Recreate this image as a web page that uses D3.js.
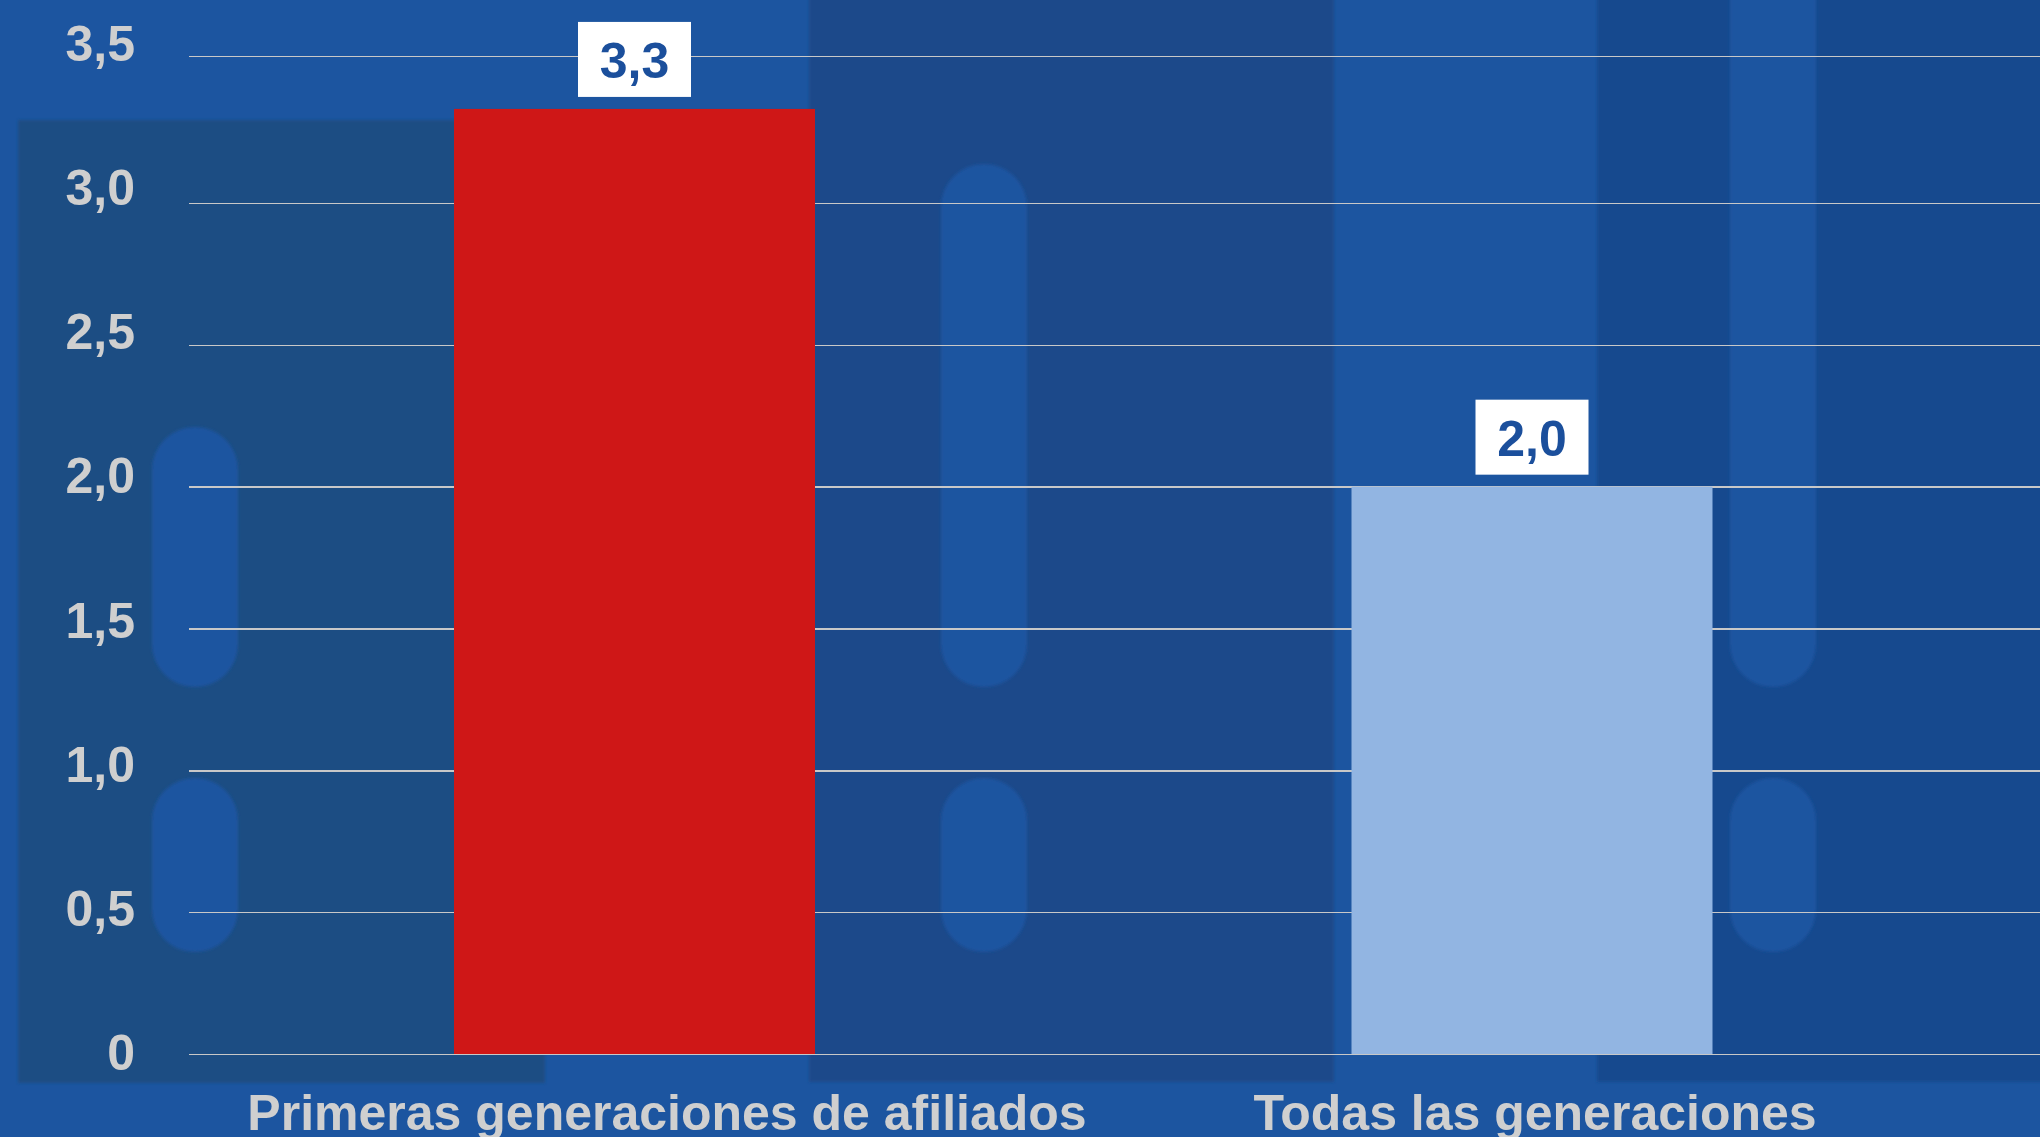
<!DOCTYPE html>
<html>
<head>
<meta charset="utf-8">
<script src="https://cdn.jsdelivr.net/npm/d3@7"></script>
<style>
  html, body { margin: 0; padding: 0; overflow: hidden; background: #1c55a0; }
  svg { display: block; }
</style>
</head>
<body>
<div id="chart"></div>
<script>
// data
var categories = ["Primeras generaciones de afiliados", "Todas las generaciones"];
var values = [3.32, 2.0];
var yTicks = [0, 0.5, 1, 1.5, 2, 2.5, 3, 3.5];
var tickLabels = ["0", "0,5", "1,0", "1,5", "2,0", "2,5", "3,0", "3,5"];

var barColors = ["#cf1717", "#92b5e2"];

var width = 2040,
    height = 1137,
    font = "'Liberation Sans', Arial, sans-serif";

// background panels and pills (decoration only)
var panels = [
  { x: 18, y: 120, w: 527, h: 963, fill: "#1b4e83" },
  { x: 809, y: -30, w: 525, h: 1112, fill: "#1b498a" },
  { x: 1597, y: -30, w: 480, h: 1112, fill: "#16498e" }
];
var pills = [
  { x: 152, y: 427, w: 86, h: 260 },
  { x: 152, y: 778, w: 86, h: 174 },
  { x: 941, y: 164, w: 86, h: 523 },
  { x: 941, y: 778, w: 86, h: 174 },
  { x: 1730, y: -80, w: 86, h: 767 },
  { x: 1730, y: 778, w: 86, h: 174 }
];

var comma = d3.formatLocale({ decimal: ",", thousands: ".", grouping: [3], currency: ["", ""] }).format(".1f");

var svg = d3.select("#chart").append("svg")
  .attr("width", width)
  .attr("height", height);

var defs = svg.append("defs");
defs.append("filter").attr("id", "soft")
  .attr("x", "-10%").attr("y", "-10%").attr("width", "120%").attr("height", "120%")
  .append("feGaussianBlur").attr("stdDeviation", 1.6);

svg.append("rect")
  .attr("width", width).attr("height", height)
  .attr("fill", "#1c55a0");

svg.append("g").selectAll("rect").data(panels).enter().append("rect")
  .attr("x", function(d){ return d.x; })
  .attr("y", function(d){ return d.y; })
  .attr("width", function(d){ return d.w; })
  .attr("height", function(d){ return d.h; })
  .attr("fill", function(d){ return d.fill; })
  .attr("filter", "url(#soft)");

svg.append("g").selectAll("rect").data(pills).enter().append("rect")
  .attr("x", function(d){ return d.x; })
  .attr("y", function(d){ return d.y; })
  .attr("width", function(d){ return d.w; })
  .attr("height", function(d){ return d.h; })
  .attr("rx", 43).attr("ry", 43)
  .attr("fill", "#1b54a0")
  .attr("filter", "url(#soft)");

// scales (top step of the original axis is a bit taller)
var y = d3.scaleLinear().domain([0, 3, 3.5]).range([1054, 203, 56]);
var yLabel = d3.scaleLinear().domain([0, 3.5]).range([1052, 43]);
var x = d3.scalePoint().domain(categories).range([634.5, 1532]);
var xLabel = d3.scalePoint().domain(categories).range([667, 1535]);
var barWidth = 361;

// gridlines
var yAxis = d3.axisLeft(y)
  .tickValues(yTicks)
  .tickSize(-(width - 189))
  .tickFormat("");

var grid = svg.append("g")
  .attr("transform", "translate(189,0)")
  .call(yAxis);
grid.select(".domain").remove();
grid.selectAll(".tick line")
  .attr("stroke", "#c8c8c8")
  .attr("stroke-width", 1.5)
  .attr("shape-rendering", "crispEdges");

// tick labels
svg.append("g").selectAll("text").data(yTicks).enter().append("text")
  .attr("x", 135)
  .attr("y", function(d){ return yLabel(d) + 18; })
  .attr("text-anchor", "end")
  .attr("font-family", font)
  .attr("font-weight", "bold")
  .attr("font-size", 50)
  .attr("fill", "#cfcfcf")
  .text(function(d, i){ return tickLabels[i]; });

// bars
svg.append("g").selectAll("rect").data(values).enter().append("rect")
  .attr("x", function(d, i){ return x(categories[i]) - barWidth / 2; })
  .attr("y", function(d){ return y(d); })
  .attr("width", barWidth)
  .attr("height", function(d){ return y(0) - y(d); })
  .attr("fill", function(d, i){ return barColors[i]; });

// value boxes
var vals = svg.append("g").selectAll("g").data(values).enter().append("g")
  .attr("transform", function(d, i){ return "translate(" + x(categories[i]) + "," + (y(d) - 12) + ")"; });

vals.append("rect")
  .attr("x", -56.5).attr("y", -75)
  .attr("width", 113).attr("height", 75)
  .attr("fill", "#ffffff");

vals.append("text")
  .attr("y", -37.5 + 19)
  .attr("text-anchor", "middle")
  .attr("font-family", font)
  .attr("font-weight", "bold")
  .attr("font-size", 50)
  .attr("fill", "#1b4f9c")
  .text(function(d){ return comma(d); });

// category labels
svg.append("g").selectAll("text").data(categories).enter().append("text")
  .attr("x", function(d){ return xLabel(d); })
  .attr("y", 1130)
  .attr("text-anchor", "middle")
  .attr("font-family", font)
  .attr("font-weight", "bold")
  .attr("font-size", 50)
  .attr("fill", "#cfcfcf")
  .text(function(d){ return d; });
</script>
</body>
</html>
